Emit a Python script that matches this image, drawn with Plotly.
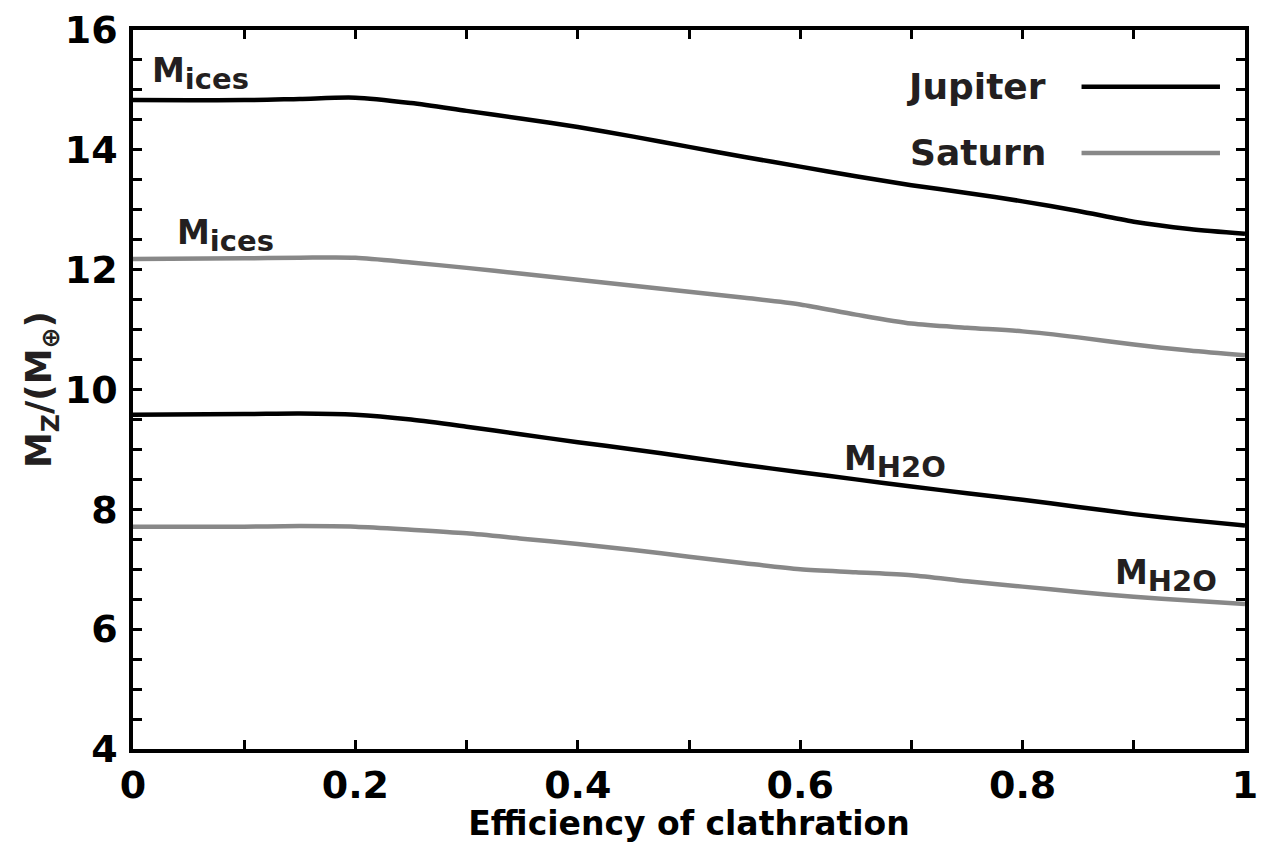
import plotly.graph_objects as go

efficiency = [0, 0.1, 0.15, 0.2, 0.25, 0.3, 0.35, 0.4, 0.45, 0.5, 0.55, 0.6, 0.65, 0.7, 0.75, 0.8, 0.85, 0.9, 0.95, 1.0]
jupiter_ices = [14.83, 14.83, 14.85, 14.87, 14.78, 14.65, 14.52, 14.38, 14.22, 14.05, 13.88, 13.72, 13.56, 13.41, 13.28, 13.14, 12.98, 12.8, 12.68, 12.6]
saturn_ices = [12.18, 12.19, 12.2, 12.2, 12.12, 12.03, 11.93, 11.83, 11.73, 11.63, 11.53, 11.42, 11.25, 11.1, 11.03, 10.97, 10.87, 10.75, 10.65, 10.57]
jupiter_h2o = [9.58, 9.59, 9.6, 9.58, 9.5, 9.38, 9.25, 9.12, 9.0, 8.87, 8.74, 8.62, 8.5, 8.38, 8.27, 8.16, 8.04, 7.92, 7.82, 7.73]
saturn_h2o = [7.71, 7.71, 7.72, 7.71, 7.66, 7.6, 7.51, 7.42, 7.32, 7.21, 7.1, 7.0, 6.95, 6.9, 6.8, 6.71, 6.62, 6.54, 6.48, 6.42]

x_ticks = [0, 0.2, 0.4, 0.6, 0.8, 1]
x_tick_labels = ["0", "0.2", "0.4", "0.6", "0.8", "1"]
y_ticks = [4, 6, 8, 10, 12, 14, 16]
y_tick_labels = ["4", "6", "8", "10", "12", "14", "16"]

JUP = "#000000"
SAT = "#888888"
FONT = "DejaVu Sans"
TXT = "#231f20"

fig = go.Figure()
for ys, col in [(jupiter_ices, JUP), (saturn_ices, SAT), (jupiter_h2o, JUP), (saturn_h2o, SAT)]:
    fig.add_trace(go.Scatter(x=efficiency, y=ys, mode="lines",
                             line=dict(color=col, width=4.5, shape="spline", smoothing=0.8),
                             showlegend=False, hoverinfo="skip"))

SUB = "<sub><span style='font-size:29px'>{}</span></sub>"
# curve labels
labels = [
    (0.015, 15.27, "M" + SUB.format("ices")),
    (0.038, 12.57, "M" + SUB.format("ices")),
    (0.638, 8.8, "M" + SUB.format("H2O")),
    (0.881, 6.89, "M" + SUB.format("H2O")),
]
for lx, ly, lt in labels:
    fig.add_annotation(x=lx, y=ly, xref="x", yref="y", text=lt, showarrow=False,
                       xanchor="left", yanchor="middle",
                       font=dict(family=FONT, size=33, color=TXT, weight="bold"))

# manual legend (text left of line sample)
legend_items = [("Jupiter", JUP, 0.921), ("Saturn", SAT, 0.829)]
for name, col, py in legend_items:
    fig.add_annotation(x=0.823, y=py, xref="paper", yref="paper", text=name, showarrow=False,
                       xanchor="right", yanchor="middle",
                       font=dict(family=FONT, size=36, color=TXT, weight="bold"))
    fig.add_shape(type="line", xref="paper", yref="paper", x0=0.853, x1=0.9775, y0=py, y1=py,
                  line=dict(color=col, width=4.5))

axis_common = dict(
    showline=True, linecolor="black", linewidth=3.5, mirror="ticks",
    ticks="inside", ticklen=9, tickwidth=3, tickcolor="black",
    showgrid=False, zeroline=False, automargin=False, ticklabeloverflow="allow",
    tickfont=dict(family=FONT, size=38, color="black", weight="bold"),
)
fig.update_xaxes(range=[0, 1], tickvals=x_ticks, ticktext=x_tick_labels,
                 minor=dict(dtick=0.1, ticks="inside", ticklen=9, tickwidth=3, tickcolor="black", showgrid=False),
                 title=dict(text="Efficiency of clathration", standoff=0,
                            font=dict(family=FONT, size=33, color="black", weight="bold")),
                 **axis_common)
fig.update_yaxes(range=[4, 16], tickvals=y_ticks, ticktext=y_tick_labels,
                 minor=dict(dtick=0.5, ticks="inside", ticklen=9, tickwidth=3, tickcolor="black", showgrid=False),
                 ticklabelstandoff=4,
                 title=dict(text="M<sub>Z</sub>/(M<sub>⊕</sub>)", standoff=3,
                            font=dict(family=FONT, size=36, color=TXT, weight="bold")),
                 **axis_common)

fig.update_layout(width=1262, height=835, margin=dict(l=125, r=25, t=22, b=94),
                  paper_bgcolor="white", plot_bgcolor="white", showlegend=False)
fig.write_html("out.html")
